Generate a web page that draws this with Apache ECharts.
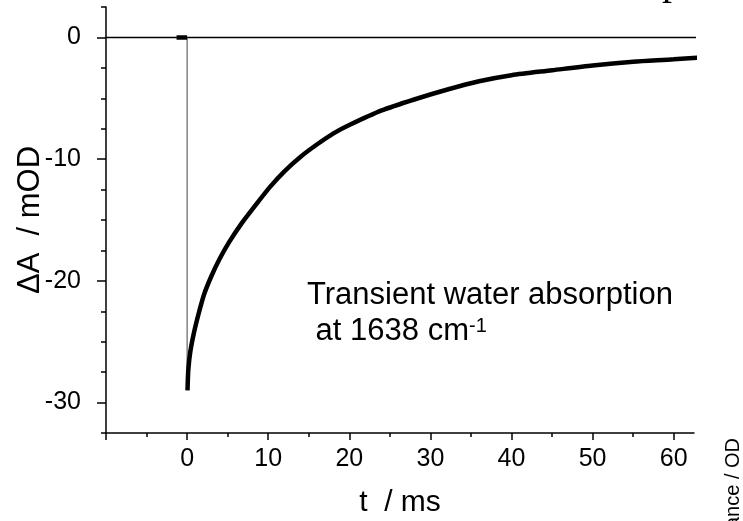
<!DOCTYPE html>
<html>
<head>
<meta charset="utf-8">
<script src="https://cdn.jsdelivr.net/npm/echarts@6/dist/echarts.min.js"></script>
<style>
  html, body { margin: 0; padding: 0; background: #fff; }
  #main { width: 743px; height: 521px; }
</style>
</head>
<body>
<div id="main"></div>
<script>
// 数据
var xTickLabels = [0, 10, 20, 30, 40, 50, 60];
var xMajorTicks = [-10, 0, 10, 20, 30, 40, 50, 60];
var xMinorTicks = [-5, 5, 15, 25, 35, 45, 55];
var yTickLabels = [0, -10, -20, -30];
var yMinorTicks = [2.5, -2.5, -5, -7.5, -12.5, -15, -17.5, -22.5, -25, -27.5, -32.5];

// 触发前基线
var preTrigger = [[-1.3, 0], [-0.8, 0], [-0.3, 0], [0, 0]];
// t=0 处的跳变, 以及右端回零竖线
var dropLine = [[0, 0], [0, -29.0]];
var endLine = [[64.1, -1.6], [64.1, 0]];
// 零线
var zeroLine = [[-11, 0], [70, 0]];
// 瞬态吸收衰减曲线 (t / ms, ΔA / mOD)
var decay = [
  [0.05, -29.0], [0.15, -27.3], [0.4, -25.8], [0.9, -24.1], [1.5, -22.5],
  [2.1, -21.1], [3.0, -19.6], [4.0, -18.2], [5.2, -16.8], [6.7, -15.3],
  [8.3, -13.9], [10.2, -12.3], [12.0, -11.0], [14.0, -9.8], [16.0, -8.8],
  [18.0, -7.9], [20.0, -7.2], [24.0, -6.0], [28.0, -5.1], [32.0, -4.3],
  [36.0, -3.6], [40.0, -3.1], [45.0, -2.7], [50.0, -2.3], [55.0, -2.0],
  [60.0, -1.8], [64.1, -1.6]
];

var chart = echarts.init(document.getElementById('main'));
var font = 'Liberation Sans, Arial, sans-serif';

chart.setOption({
  animation: false,
  grid: { left: 106, right: 49, top: 7, bottom: 88, outerBoundsMode: 'none', containLabel: false },
  xAxis: [{
    type: 'value',
    min: -10,
    max: 62.5,
    interval: 10,
    splitLine: { show: false },
    axisLine: { onZero: false, lineStyle: { color: '#000', width: 1.5 } },
    axisTick: { customValues: xMajorTicks, length: 7, lineStyle: { color: '#000', width: 1.5 } },
    axisLabel: { customValues: xTickLabels, color: '#000', fontSize: 25, fontFamily: font, margin: 14 },
    name: 't  / ms',
    nameLocation: 'middle',
    nameGap: 55,
    nameTextStyle: { color: '#000', fontSize: 30, fontFamily: font }
  }, {
    type: 'value',
    min: -10,
    max: 62.5,
    position: 'bottom',
    splitLine: { show: false },
    axisLine: { show: false, onZero: false },
    axisTick: { customValues: xMinorTicks, length: 4, lineStyle: { color: '#000', width: 1.5 } },
    axisLabel: { show: false }
  }],
  yAxis: [{
    type: 'value',
    min: -32.5,
    max: 2.5,
    splitLine: { show: false },
    axisLine: { onZero: false, lineStyle: { color: '#000', width: 1.5 } },
    axisTick: { customValues: yTickLabels, length: 9, lineStyle: { color: '#000', width: 1.5 } },
    axisLabel: { customValues: yTickLabels, color: '#000', fontSize: 25, fontFamily: font, margin: 25 },
    name: 'ΔA  / mOD',
    nameLocation: 'middle',
    nameGap: 60,
    nameMoveOverlap: false,
    nameTextStyle: { color: '#000', fontSize: 31, fontFamily: font }
  }, {
    type: 'value',
    min: -32.5,
    max: 2.5,
    position: 'left',
    splitLine: { show: false },
    axisLine: { show: false, onZero: false },
    axisTick: { customValues: yMinorTicks, length: 5, lineStyle: { color: '#000', width: 1.5 } },
    axisLabel: { show: false }
  }],
  series: [{
    type: 'line',
    data: zeroLine,
    clip: false,
    symbol: 'none',
    lineStyle: { color: '#000', width: 1.5 }
  }, {
    type: 'line',
    data: dropLine,
    clip: false,
    symbol: 'none',
    lineStyle: { color: '#444', width: 1 }
  }, {
    type: 'line',
    data: endLine,
    clip: false,
    symbol: 'none',
    lineStyle: { color: '#444', width: 1 }
  }, {
    type: 'line',
    data: preTrigger,
    clip: false,
    symbol: 'none',
    lineStyle: { color: '#000', width: 4.5 }
  }, {
    type: 'line',
    data: decay,
    clip: false,
    symbol: 'none',
    smooth: 0.25,
    lineStyle: { color: '#000', width: 4.5 }
  }],
  graphic: [{
    type: 'text',
    left: 307,
    top: 280,
    style: { text: 'Transient water absorption', fill: '#000', fontSize: 31, fontFamily: font }
  }, {
    type: 'text',
    left: 307,
    top: 316,
    style: {
      text: '{a| at 1638 cm}{s|-1}',
      fill: '#000',
      rich: {
        a: { fontSize: 31, fontFamily: font, fill: '#000', verticalAlign: 'bottom' },
        s: { fontSize: 20, fontFamily: font, fill: '#000', verticalAlign: 'top' }
      }
    }
  }, {
    type: 'text',
    x: 733,
    y: 438,
    rotation: Math.PI / 2,
    style: { text: 'Absorbance / OD', fill: '#000', fontSize: 20, fontFamily: font, align: 'right', verticalAlign: 'middle' }
  }, {
    type: 'text',
    x: 672,
    y: 3,
    style: { text: 'p', fill: '#000', fontSize: 40, fontFamily: 'Liberation Serif, serif', align: 'center', verticalAlign: 'bottom' }
  }]
});
</script>
</body>
</html>
